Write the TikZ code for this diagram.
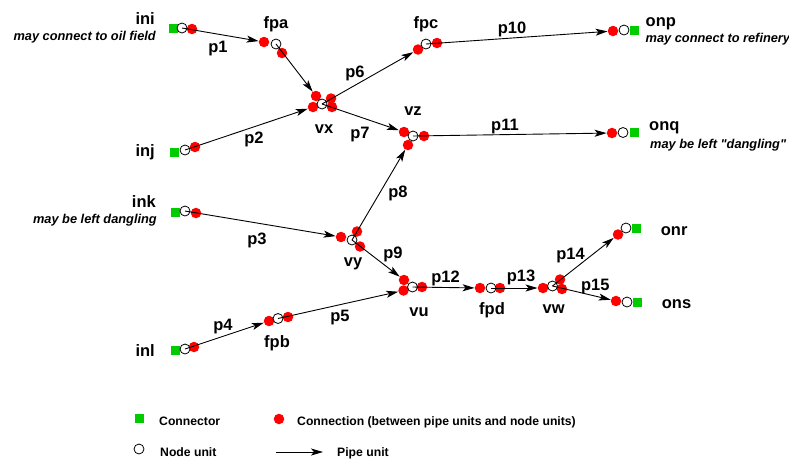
\documentclass[tikz,border=0pt]{standalone}
\usepackage{fontspec}
\setmainfont{Liberation Sans}
\newfontfamily\notefont{Liberation Sans}
\usetikzlibrary{arrows.meta}
\definecolor{conngreen}{RGB}{0,204,0}
\definecolor{connred}{RGB}{255,0,0}
\begin{document}
\begin{tikzpicture}[x=1pt,y=-1pt,
  sq/.style={rectangle,fill=conngreen,minimum size=9pt,inner sep=0pt},
  nu/.style={circle,draw=black,fill=white,line width=0.8pt,minimum size=10pt,inner sep=0pt},
  cn/.style={circle,fill=connred,minimum size=10.5pt,inner sep=0pt},
  pipe/.style={draw=black,line width=0.9pt,-{Stealth[length=12pt,width=7pt,inset=3pt]}},
  lbl/.style={font=\fontsize{16.5}{18}\selectfont\bfseries,inner sep=0pt},
  note/.style={font=\notefont\fontsize{12.8}{14}\selectfont\bfseries\itshape,inner sep=0pt},
  leg/.style={font=\fontsize{12.2}{14}\selectfont\bfseries,inner sep=0pt,anchor=base west}]
\useasboundingbox[fill=white] (0,0) rectangle (789,459);

% inputs
\node[sq] (ini-s) at (173,28) {};
\node[cn] (ini-c) at (192,29) {};
\node[nu] (ini) at (182,28) {};
\node[sq] (inj-s) at (174,152) {};
\node[cn] (inj-c) at (195,147) {};
\node[nu] (inj) at (185,150) {};
\node[sq] (ink-s) at (175,212) {};
\node[cn] (ink-c) at (196,213) {};
\node[nu] (ink) at (185,211) {};
\node[sq] (inl-s) at (175,350) {};
\node[cn] (inl-c) at (194,347) {};
\node[nu] (inl) at (185,349) {};

% fpa
\node[cn] (fpa-i) at (264,42) {};
\node[cn] (fpa-o) at (282,53) {};
\node[nu] (fpa) at (276,44) {};
% vx
\node[cn] (vx-a) at (316,96) {};
\node[cn] (vx-b) at (313,107) {};
\node[cn] (vx-c) at (331,98.5) {};
\node[cn] (vx-d) at (332,107) {};
\node[nu] (vx) at (322,104) {};
% fpc
\node[cn] (fpc-i) at (418,49.5) {};
\node[cn] (fpc-o) at (437,43) {};
\node[nu] (fpc) at (426,44) {};
% onp
\node[cn] (onp-i) at (613,31) {};
\node[nu] (onp) at (624,30) {};
\node[sq] (onp-s) at (634,30) {};
% vz
\node[cn] (vz-a) at (404,132) {};
\node[cn] (vz-b) at (408,145) {};
\node[cn] (vz-c) at (424,136) {};
\node[nu] (vz) at (413,136) {};
% onq
\node[cn] (onq-i) at (612,133) {};
\node[nu] (onq) at (623,132.5) {};
\node[sq] (onq-s) at (634,132.5) {};
% vy
\node[cn] (vy-a) at (341,237) {};
\node[cn] (vy-b) at (357,231.5) {};
\node[cn] (vy-c) at (360,246.5) {};
\node[nu] (vy) at (352,240) {};
% vu
\node[cn] (vu-a) at (404,280) {};
\node[cn] (vu-b) at (403.5,290.5) {};
\node[cn] (vu-c) at (422,287) {};
\node[nu] (vu) at (412.5,287) {};
% fpb
\node[cn] (fpb-i) at (269,321) {};
\node[cn] (fpb-o) at (288,317) {};
\node[nu] (fpb) at (278,318.5) {};
% fpd
\node[cn] (fpd-i) at (480,288) {};
\node[cn] (fpd-o) at (500,288) {};
\node[nu] (fpd) at (491,288) {};
% vw
\node[cn] (vw-a) at (543,288) {};
\node[cn] (vw-b) at (560,279.5) {};
\node[cn] (vw-c) at (562,289) {};
\node[nu] (vw) at (552.5,286) {};
% onr
\node[cn] (onr-i) at (618,234.5) {};
\node[nu] (onr) at (626,228) {};
\node[sq] (onr-s) at (636.5,228) {};
% ons
\node[cn] (ons-i) at (616,301) {};
\node[nu] (ons) at (627,302) {};
\node[sq] (ons-s) at (637.5,302.5) {};

% pipes
\draw[pipe] (ini.center) -- (fpa-i);
\draw[pipe] (fpa.center) -- (vx-a);
\draw[pipe] (inj.center) -- (vx-b);
\draw[pipe] (vx.center) -- (fpc-i);
\draw[pipe] (vx.center) -- (vz-a);
\draw[pipe] (fpc.center) -- (onp-i);
\draw[pipe] (vz.center) -- (onq-i);
\draw[pipe] (ink.center) -- (vy-a);
\draw[pipe] (vy.center) -- (vz-b);
\draw[pipe] (vy.center) -- (vu-a);
\draw[pipe] (inl.center) -- (fpb-i);
\draw[pipe] (fpb.center) -- (vu-b);
\draw[pipe] (vu.center) -- (fpd-i);
\draw[pipe] (fpd.center) -- (vw-a);
\draw[pipe] (vw.center) -- (onr-i);
\draw[pipe] (vw.center) -- (ons-i);

% unit labels
\node[lbl,anchor=base east] (t-ini) at (155,24) {ini};
\node[note,anchor=base east] (n-ini) at (156,40) {may connect to oil field};
\node[lbl,anchor=base east] (t-inj) at (155,156) {inj};
\node[lbl,anchor=base east] (t-ink) at (156,207.5) {ink};
\node[note,anchor=base east] (n-ink) at (157,223.3) {may be left dangling};
\node[lbl,anchor=base east] (t-inl) at (155,356) {inl};
\node[lbl,anchor=base] (t-fpa) at (276,28) {fpa};
\node[lbl,anchor=base] (t-vx) at (324,133) {vx};
\node[lbl,anchor=base] (t-fpc) at (426,28) {fpc};
\node[lbl,anchor=base west] (t-onp) at (645.5,26) {onp};
\node[note,anchor=base west] (n-onp) at (645.5,42.7) {may connect to refinery};
\node[lbl,anchor=base] (t-vz) at (413,115) {vz};
\node[lbl,anchor=base west] (t-onq) at (649,130.7) {onq};
\node[note,anchor=base west] (n-onq) at (650,148.3) {may be left "dangling"};
\node[lbl,anchor=base] (t-vy) at (353,266.7) {vy};
\node[lbl,anchor=base] (t-fpb) at (277,347.3) {fpb};
\node[lbl,anchor=base] (t-vu) at (419,316.7) {vu};
\node[lbl,anchor=base] (t-fpd) at (492,314) {fpd};
\node[lbl,anchor=base] (t-vw) at (553.7,313) {vw};
\node[lbl,anchor=base west] (t-onr) at (660.7,235) {onr};
\node[lbl,anchor=base west] (t-ons) at (661.7,308.3) {ons};

% pipe labels
\node[lbl,anchor=base] (l-p1) at (218,52.5) {p1};
\node[lbl,anchor=base] (l-p2) at (254,143) {p2};
\node[lbl,anchor=base] (l-p6) at (355,77) {p6};
\node[lbl,anchor=base] (l-p7) at (360,138) {p7};
\node[lbl,anchor=base] (l-p10) at (512,33) {p10};
\node[lbl,anchor=base] (l-p11) at (505,130) {p11};
\node[lbl,anchor=base] (l-p3) at (257,244) {p3};
\node[lbl,anchor=base] (l-p8) at (398,197) {p8};
\node[lbl,anchor=base] (l-p9) at (393,258) {p9};
\node[lbl,anchor=base] (l-p4) at (223,330) {p4};
\node[lbl,anchor=base] (l-p5) at (340,321.5) {p5};
\node[lbl,anchor=base] (l-p12) at (445.5,282.5) {p12};
\node[lbl,anchor=base] (l-p13) at (521,281.5) {p13};
\node[lbl,anchor=base] (l-p14) at (570.5,259) {p14};
\node[lbl,anchor=base] (l-p15) at (595.3,290.5) {p15};

% legend
\node[sq] (lg-s) at (139,418.5) {};
\node[cn] (lg-c) at (279,419) {};
\node[nu] (lg-n) at (139,449) {};
\coordinate (lg-a) at (276,452);
\coordinate (lg-b) at (323,452);
\draw[pipe] (lg-a) -- (lg-b);
\node[leg] (lt-s) at (159,425) {Connector};
\node[leg] (lt-c) at (297,425) {Connection (between pipe units and node units)};
\node[leg] (lt-n) at (160,456) {Node unit};
\node[leg] (lt-p) at (337,456) {Pipe unit};
\end{tikzpicture}
\end{document}
